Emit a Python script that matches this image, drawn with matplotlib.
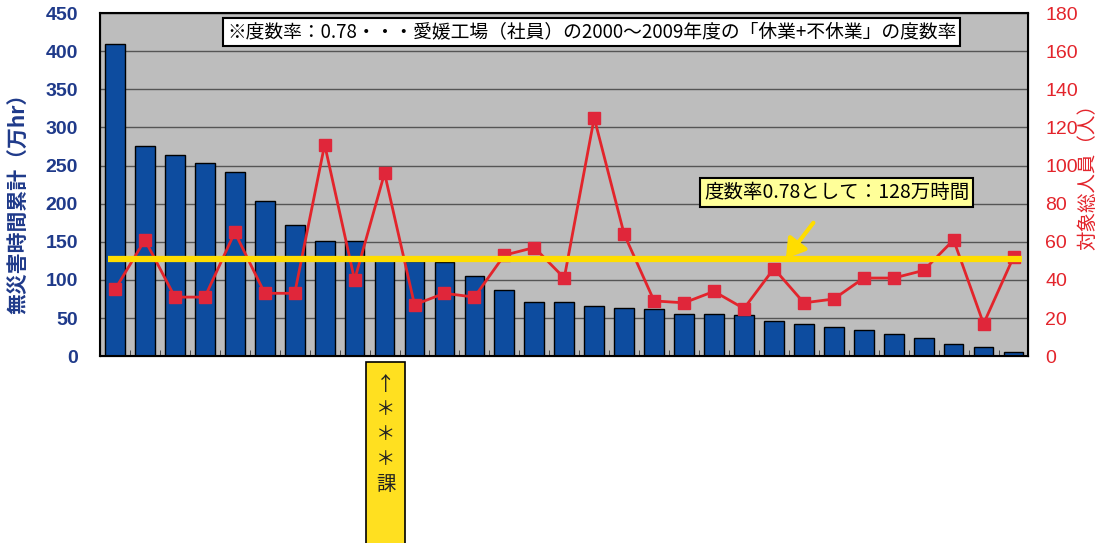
import numpy as np
import matplotlib
matplotlib.use("Agg")
import matplotlib.pyplot as plt
from matplotlib.patches import Rectangle

plt.rcParams['font.family'] = ['Noto Sans CJK JP', 'DejaVu Sans']

# 無災害時間累計 (万hr), sorted by size
hours = [410, 276, 264, 254, 242, 203, 172, 151, 151, 126, 125, 124, 105,
         87, 71, 71, 66, 63, 62, 55, 55, 54, 46, 42, 38, 34, 29, 24, 16, 12, 5]
# 対象総人員 (人)
people = [35, 61, 31, 31, 65, 33, 33, 111, 40, 96, 27, 33, 31,
          53, 57, 41, 125, 64, 29, 28, 34, 25, 46, 28, 30, 41, 41, 45, 61, 17, 52]
target_hours = 128

note = "※度数率：0.78・・・愛媛工場（社員）の2000～2009年度の「休業+不休業」の度数率"
target_label = "度数率0.78として：128万時間"
left_label = "無災害時間累計（万hr）"
right_label = "対象総人員（人）"
section_label = "↑\n＊\n＊\n＊\n課"

blue = '#0d4c9f'
navy = '#1f3a8a'
red = '#e3242b'
yellow = '#ffdd00'

fig = plt.figure(figsize=(11.04, 5.43), dpi=100)
ax = fig.add_axes([0.0906, 0.344, 0.841, 0.632])
ax.set_facecolor('#bdbdbd')

x = np.arange(len(hours))
ax.set_axisbelow(True)
ax.yaxis.grid(True, color='#555555', linewidth=1)
ax.bar(x, hours, width=0.66, color=blue, edgecolor='black', linewidth=1, zorder=2)
ax.set_xlim(-0.5, len(hours) - 0.5)
ax.set_ylim(0, 450)
ax.set_yticks(np.arange(0, 451, 50))
ax.set_xticks([])
ax.set_xticks(x[:-1] + 0.5, minor=True)
ax.tick_params(axis='x', which='minor', direction='in', length=4, color='#333333')
ax.tick_params(axis='y', length=0, pad=16, labelsize=14, labelcolor=navy)
for t in ax.get_yticklabels():
    t.set_fontweight('bold')
    t.set_family(['Liberation Sans', 'DejaVu Sans'])
for s in ax.spines.values():
    s.set_linewidth(1.5)

# second axis: people, plus the target line drawn on top
ax2 = ax.twinx()
ax2.plot(x, people, color=red, linewidth=2, marker='s', markersize=9,
         markerfacecolor='#e0263a', markeredgecolor='#e0263a', zorder=3)
ax2.set_ylim(0, 180)
ax2.set_yticks(np.arange(0, 181, 20))
ax2.tick_params(axis='y', length=0, pad=12, labelsize=14, labelcolor=red)
for t in ax2.get_yticklabels():
    t.set_family(['Liberation Sans', 'DejaVu Sans'])
line_y = target_hours * 180 / 450
ax2.hlines(line_y, -0.25, len(hours) - 0.7, color=yellow, linewidth=4.5, zorder=4)

fig.text(0.536, 0.941, note, ha='center', va='center', fontsize=13.5,
         bbox=dict(boxstyle='square,pad=0.2', facecolor='white', edgecolor='black', linewidth=1.5))

ax2.annotate(target_label, xy=(22.4, line_y), xycoords='data',
             xytext=(0.758, 0.646), textcoords='figure fraction',
             ha='center', va='center', fontsize=14,
             bbox=dict(boxstyle='square,pad=0.2', facecolor='#ffff99', edgecolor='black', linewidth=1.5),
             arrowprops=dict(arrowstyle='-|>,head_width=0.5,head_length=0.8', color=yellow,
                             linewidth=3, shrinkA=14, shrinkB=0),
             zorder=6)

fig.text(0.017, 0.635, left_label, rotation=90, ha='center', va='center',
         fontsize=15, fontweight='bold', color=navy)
fig.text(0.985, 0.683, right_label, rotation=90, ha='center', va='center',
         fontsize=14, color=red)

fig.patches.append(Rectangle((0.3315, -0.01), 0.0353, 0.343, transform=fig.transFigure,
                             facecolor='#ffe020', edgecolor='black', linewidth=1.2))
fig.text(0.3496, 0.2, section_label, ha='center', va='center', fontsize=14,
         linespacing=1.25, color='#222222')

fig.savefig('out.png', dpi=100)
